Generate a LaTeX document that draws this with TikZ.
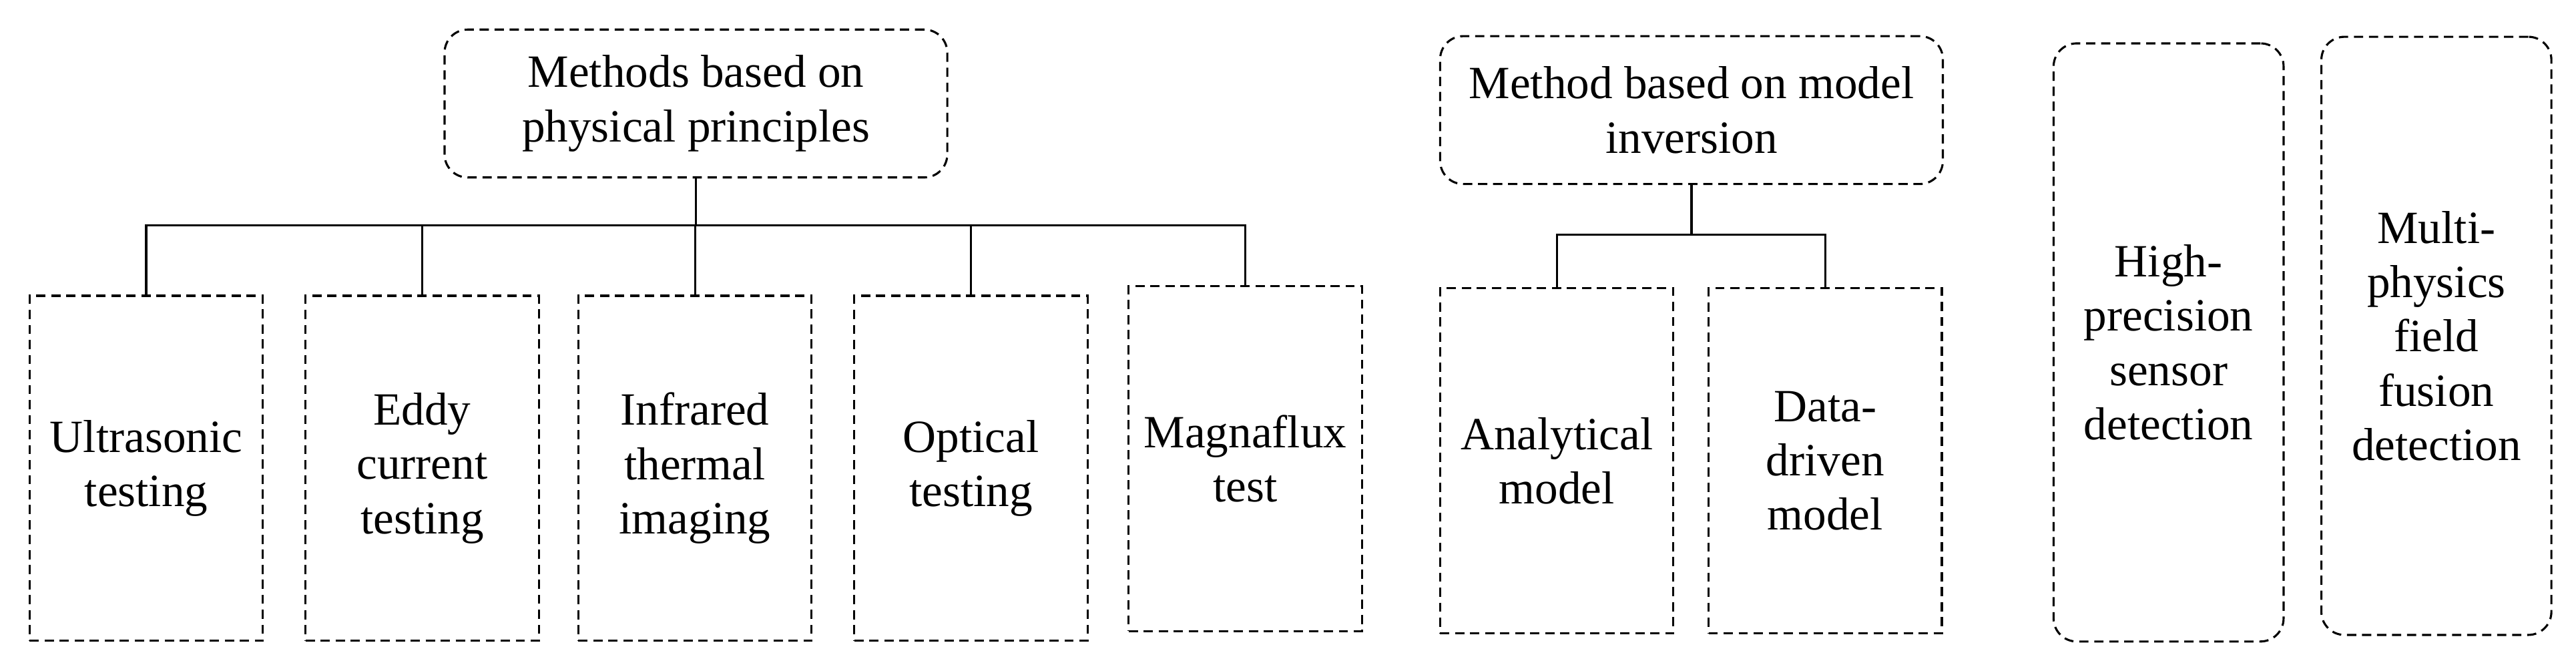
\documentclass[tikz,border=0pt]{standalone}
\usepackage{fontspec}
\setmainfont{Liberation Serif}
\begin{document}
\begin{tikzpicture}[
    box/.style={draw,dash pattern=on 4pt off 2.5pt,line width=0.9pt,align=center,
      font=\fontsize{20}{23.5}\selectfont,inner sep=2pt},
    head/.style={box,rounded corners=10pt,minimum width=7.65cm,minimum height=2.25cm},
    leaf/.style={box,minimum width=3.55cm,minimum height=5.25cm},
    tall/.style={box,rounded corners=10pt,minimum width=3.5cm,minimum height=9.1cm},
    link/.style={line width=0.9pt}
    ]
    \useasboundingbox (0,0) rectangle (39.2,-10.2);
    % heads
    \node[head] (phys) at (10.59,-1.575) {Methods based on\\physical principles};
    \node[head] (inv) at (25.74,-1.675) {Method based on model\\inversion};

    % physical methods
    \node[leaf] (ultra) at (2.225,-7.125) {Ultrasonic\\testing};
    \node[leaf] (eddy) at (6.425,-7.125) {Eddy\\current\\testing};
    \node[leaf] (infra) at (10.575,-7.125) {Infrared\\thermal\\imaging};
    \node[leaf] (optic) at (14.775,-7.125) {Optical\\testing};
    \node[leaf] (magna) at (18.95,-6.975) {Magnaflux\\test};

    % model methods
    \node[leaf] (anal) at (23.69,-7.01) {Analytical\\model};
    \node[leaf] (data) at (27.775,-7.01) {Data-\\driven\\model};

    % standalone methods
    \node[tall] (sensor) at (33.0,-5.21) {High-\\precision\\sensor\\detection};
    \node[tall] (fusion) at (37.075,-5.11) {Multi-\\physics\\field\\fusion\\detection};

    % tree links
    \coordinate (pj) at (10.59,-3.425);
    \coordinate (ij) at (25.74,-3.575);
    \draw[link] (phys.south) -- (pj);
    \foreach \n in {ultra,eddy,infra,optic,magna}
      \draw[link] (pj) -| (\n.north);
    \draw[link] (inv.south) -- (ij);
    \foreach \n in {anal,data}
      \draw[link] (ij) -| (\n.north);
\end{tikzpicture}
\end{document}
